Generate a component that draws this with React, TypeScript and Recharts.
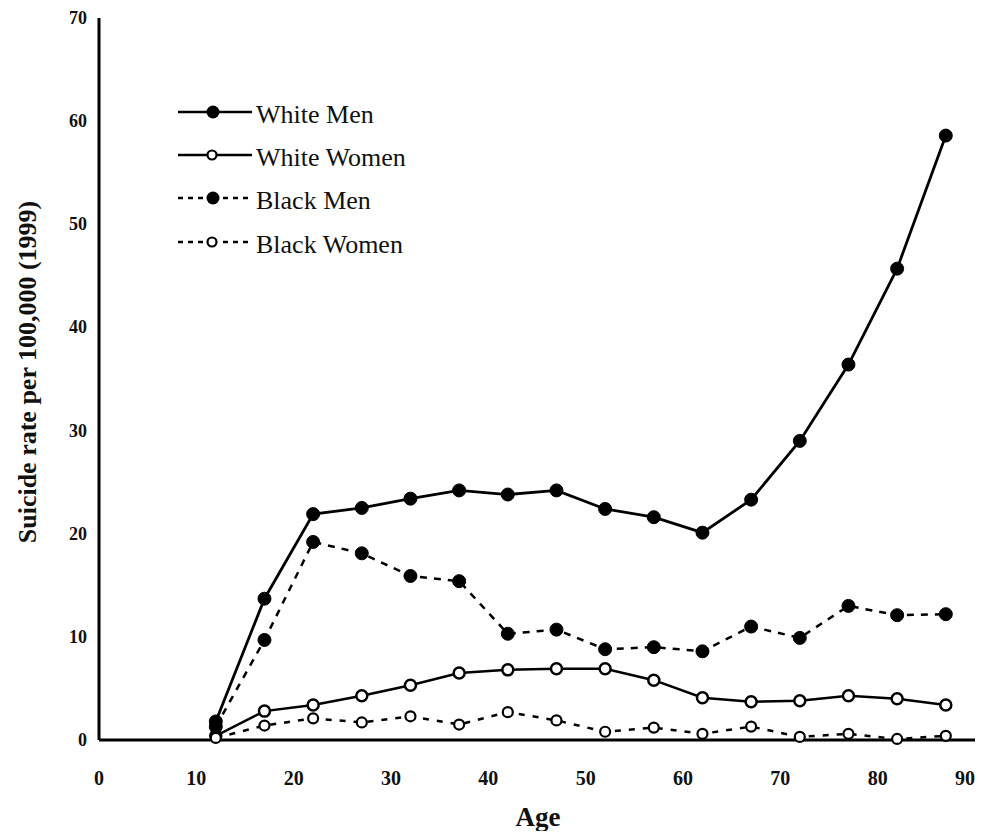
import React from 'react';
import { LineChart, Line, XAxis, YAxis, Label } from 'recharts';

const ages = [12, 17, 22, 27, 32, 37, 42, 47, 52, 57, 62, 67, 72, 77, 82, 87];
const whiteMen = [1.8, 13.7, 21.9, 22.5, 23.4, 24.2, 23.8, 24.2, 22.4, 21.6, 20.1, 23.3, 29.0, 36.4, 45.7, 58.6];
const whiteWomen = [0.4, 2.8, 3.4, 4.3, 5.3, 6.5, 6.8, 6.9, 6.9, 5.8, 4.1, 3.7, 3.8, 4.3, 4.0, 3.4];
const blackMen = [1.3, 9.7, 19.2, 18.1, 15.9, 15.4, 10.3, 10.7, 8.8, 9.0, 8.6, 11.0, 9.9, 13.0, 12.1, 12.2];
const blackWomen = [0.2, 1.4, 2.1, 1.7, 2.3, 1.5, 2.7, 1.9, 0.8, 1.2, 0.6, 1.3, 0.3, 0.6, 0.1, 0.4];
const xTicks = [0, 10, 20, 30, 40, 50, 60, 70, 80, 90];
const yTicks = [0, 10, 20, 30, 40, 50, 60, 70];
const seriesNames = ['White Men', 'White Women', 'Black Men', 'Black Women'];

const data = ages.map((age, i) => ({
  age,
  wm: whiteMen[i],
  ww: whiteWomen[i],
  bm: blackMen[i],
  bw: blackWomen[i],
}));

const FONT = '"Liberation Serif", "Times New Roman", serif';

const XTick = (props: any) => {
  const { x, y, payload } = props;
  const isLast = payload.value === xTicks[xTicks.length - 1];
  return (
    <text
      x={isLast ? x - 10 : x}
      y={y + 45}
      textAnchor="middle"
      fontFamily={FONT}
      fontWeight="bold"
      fontSize={20}
      fill="#111"
    >
      {payload.value}
    </text>
  );
};

const YTick = (props: any) => {
  const { x, y, payload } = props;
  return (
    <text x={x - 12} y={y + 6} textAnchor="end" fontFamily={FONT} fontWeight="bold" fontSize={18} fill="#111">
      {payload.value}
    </text>
  );
};

const legendRows = [
  { y: 112, name: seriesNames[0], dashed: false, filled: true },
  { y: 155, name: seriesNames[1], dashed: false, filled: false },
  { y: 198, name: seriesNames[2], dashed: true, filled: true },
  { y: 242, name: seriesNames[3], dashed: true, filled: false },
];

const LegendBlock = () => (
  <g>
    {legendRows.map((r) => (
      <g key={r.name}>
        {r.dashed ? (
          <>
            <line x1={178} x2={204} y1={r.y} y2={r.y} stroke="#000" strokeWidth={2.5} strokeDasharray="5 5" />
            <line x1={223} x2={252} y1={r.y} y2={r.y} stroke="#000" strokeWidth={2.5} strokeDasharray="5 5" />
          </>
        ) : (
          <line x1={178} x2={252} y1={r.y} y2={r.y} stroke="#000" strokeWidth={2.5} />
        )}
        {r.filled ? (
          <circle cx={213} cy={r.y} r={6.5} fill="#000" />
        ) : (
          <circle cx={212} cy={r.y} r={4.5} fill="#fff" stroke="#000" strokeWidth={2.2} />
        )}
        <text x={256} y={r.y + 11} fontFamily={FONT} fontSize={26} fill="#111">
          {r.name}
        </text>
      </g>
    ))}
  </g>
);

export default function App() {
  return (
    <div style={{ marginTop: -8, marginLeft: -8, marginBottom: -8, width: 978, height: 839, background: '#fff' }}>
      <LineChart
        width={978}
        height={839}
        data={data}
        margin={{ top: 18, right: 3, left: 0, bottom: 0 }}
      >
        <XAxis
          dataKey="age"
          type="number"
          domain={[0, 90]}
          ticks={xTicks}
          tick={<XTick />}
          tickLine={false}
          tickSize={0}
          tickMargin={0}
          height={99}
          axisLine={{ stroke: '#000', strokeWidth: 3 }}
          interval={0}
        >
          <Label
            content={() => (
              <text x={538} y={826} textAnchor="middle" fontFamily={FONT} fontWeight="bold" fontSize={27} fill="#111">
                Age
              </text>
            )}
          />
        </XAxis>
        <YAxis
          type="number"
          domain={[0, 70]}
          ticks={yTicks}
          tick={<YTick />}
          tickLine={false}
          tickSize={0}
          tickMargin={0}
          width={99}
          axisLine={{ stroke: '#000', strokeWidth: 3 }}
          interval={0}
        >
          <Label
            content={() => (
              <g>
                <text
                  x={36}
                  y={372}
                  transform="rotate(-90, 36, 372)"
                  textAnchor="middle"
                  fontFamily={FONT}
                  fontWeight="bold"
                  fontSize={26}
                  fill="#111"
                >
                  Suicide rate per 100,000 (1999)
                </text>
                <LegendBlock />
              </g>
            )}
          />
        </YAxis>
        <Line
          dataKey="wm"
          name={seriesNames[0]}
          stroke="#000"
          strokeWidth={2.8}
          dot={{ r: 6.5, fill: '#000', stroke: '#000', strokeWidth: 1, strokeDasharray: 'none' }}
          isAnimationActive={false}
        />
        <Line
          dataKey="ww"
          name={seriesNames[1]}
          stroke="#000"
          strokeWidth={2.5}
          dot={{ r: 5.5, fill: '#fff', stroke: '#000', strokeWidth: 2.5, strokeDasharray: 'none' }}
          isAnimationActive={false}
        />
        <Line
          dataKey="bm"
          name={seriesNames[2]}
          stroke="#000"
          strokeWidth={2.5}
          strokeDasharray="7 7"
          dot={{ r: 6.5, fill: '#000', stroke: '#000', strokeWidth: 1, strokeDasharray: 'none' }}
          isAnimationActive={false}
        />
        <Line
          dataKey="bw"
          name={seriesNames[3]}
          stroke="#000"
          strokeWidth={2.5}
          strokeDasharray="6 8"
          dot={{ r: 5, fill: '#fff', stroke: '#000', strokeWidth: 2.2, strokeDasharray: 'none' }}
          isAnimationActive={false}
        />
      </LineChart>
    </div>
  );
}
